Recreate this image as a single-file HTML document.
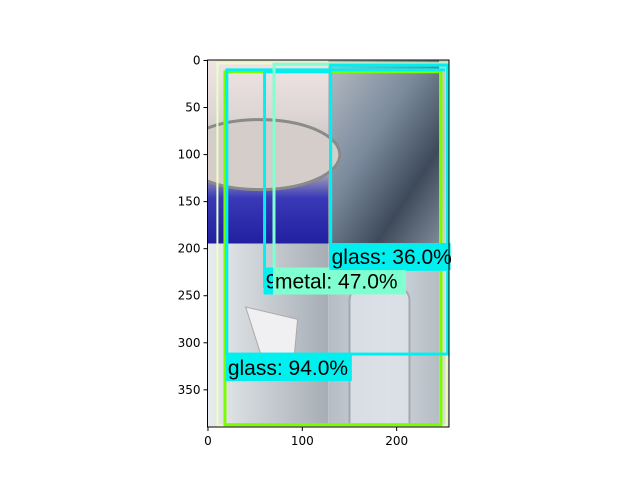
<!DOCTYPE html>
<html><head><meta charset="utf-8"><style>
html,body{margin:0;padding:0;background:#fff}
svg{display:block;font-family:"DejaVu Sans","Liberation Sans",sans-serif}
</style></head><body>
<svg id="fig" width="640" height="480" viewBox="0 0 640 480">
<defs>
<linearGradient id="tl" x1="0" y1="0" x2="0" y2="1">
<stop offset="0" stop-color="#efe4e4"/><stop offset="0.3" stop-color="#ddd6d4"/><stop offset="0.6" stop-color="#b8b2b4"/><stop offset="0.75" stop-color="#3a3ab8"/><stop offset="1" stop-color="#2020a0"/></linearGradient>
<linearGradient id="tr" x1="0" y1="0" x2="1" y2="1">
<stop offset="0" stop-color="#b8bcc4"/><stop offset="0.4" stop-color="#7a8a9c"/><stop offset="0.7" stop-color="#3e4a5a"/><stop offset="1" stop-color="#8894a2"/></linearGradient>
<linearGradient id="bl" x1="0" y1="0" x2="1" y2="0">
<stop offset="0" stop-color="#e8ecee"/><stop offset="1" stop-color="#a6adb5"/></linearGradient>
<linearGradient id="br" x1="0" y1="0" x2="1" y2="0">
<stop offset="0" stop-color="#b5bcc4"/><stop offset="0.5" stop-color="#d0d6dc"/><stop offset="1" stop-color="#b0b8c0"/></linearGradient>
<clipPath id="clip"><rect x="207.5" y="60" width="241.5" height="367"/></clipPath>
</defs>
<g id="img" clip-path="url(#clip)"></g>
<g id="boxes"></g>
<g id="axes"></g>
</svg>
<script>
const xTicks=[0,100,200];
const yTicks=[0,50,100,150,200,250,300,350];
const imgW=256, imgH=390;
const boxLabels=["frame","green","glass: 94.0%","9","metal: 47.0%","glass: 36.0%"];
const boxX0=[10,18,20,60,70,130];
const boxY0=[3,12,10,12,4,5];
const boxX1=[253,247,254,130,253,254];
const boxY1=[388,387,312,240,222,222];
const boxColors=["#eaffc0","#7cfc00","#00f0f0","#00f0f0","#80ffd0","#00f0f0"];
const ns="http://www.w3.org/2000/svg";
const L=207.5,T=60,R=449,B=427;
const sx=v=>L+(v+0.5)*(R-L)/imgW;
const sy=v=>T+(v+0.5)*(B-T)/imgH;
function mk(t,a,p){const e=document.createElementNS(ns,t);for(const k in a)e.setAttribute(k,a[k]);p.appendChild(e);return e;}
const img=document.getElementById('img');
const quads=[[0,0,128,195,'url(#tl)'],[128,0,256,195,'url(#tr)'],[0,195,128,390,'url(#bl)'],[128,195,256,390,'url(#br)']];
quads.forEach(q=>{const r=mk('rect',{x:sx(q[0]-0.5),y:sy(q[1]-0.5),width:sx(q[2])-sx(q[0]),height:sy(q[3])-sy(q[1]),fill:q[4]},img);

});
mk('rect',{x:sx(245),y:T,width:R-sx(245),height:B-T,fill:'#e4e2dc',opacity:0.8},img);
const e1=mk('ellipse',{cx:sx(55),cy:sy(100),rx:80,ry:35,fill:'#d4cdca',stroke:'#8a8a8a',"stroke-width":3},img);


const bot=mk('rect',{x:sx(150),y:sy(240),width:60,height:180,rx:14,fill:'#dfe4ea',stroke:'#9aa2ac',"stroke-width":2,opacity:0.8},img);


const pap=mk('polygon',{points:`${sx(40)},${sy(262)} ${sx(95)},${sy(275)} ${sx(90)},${sy(330)} ${sx(60)},${sy(325)}`,fill:'#f0f0f2',stroke:'#b0a8a8'},img);


const bx=document.getElementById('boxes');
for(let i=0;i<boxX0.length;i++){
 const w=(i==0)?2:3;
 const r=mk('rect',{x:sx(boxX0[i]),y:sy(boxY0[i]),width:sx(boxX1[i])-sx(boxX0[i]),height:sy(boxY1[i])-sy(boxY0[i]),fill:'none',stroke:boxColors[i],"stroke-width":w},bx);
 
 
}
function label(i,ly,w){
 const x=sx(boxX0[i]), y=sy(ly);
 const bg=mk('rect',{x:x-1,y:y,width:w,height:27,fill:boxColors[i]},bx);
 
 
 const t=mk('text',{x:x+1,y:y+21,"font-size":21,fill:'#000',"font-family":"Liberation Sans, sans-serif"},bx);
 t.textContent=boxLabels[i];
 
 
}
label(3,220,20);
label(4,220,133);
label(5,194,121);
label(2,312,126);
const ax=document.getElementById('axes');
const fr=mk('rect',{x:L,y:T,width:R-L,height:B-T,fill:'none',stroke:'#000',"stroke-width":1},ax);


xTicks.forEach(v=>{const x=sx(v);mk('line',{x1:x,x2:x,y1:B,y2:B+4,stroke:'#000'},ax);
 const t=mk('text',{x:x,y:B+18,"font-size":12,"text-anchor":"middle"},ax);t.textContent=v;
 
 });
yTicks.forEach(v=>{const y=sy(v);mk('line',{x1:L-4,x2:L,y1:y,y2:y,stroke:'#000'},ax);
 const t=mk('text',{x:L-7,y:y+4,"font-size":12,"text-anchor":"end"},ax);t.textContent=v;
 
 });
</script>
</body></html>
